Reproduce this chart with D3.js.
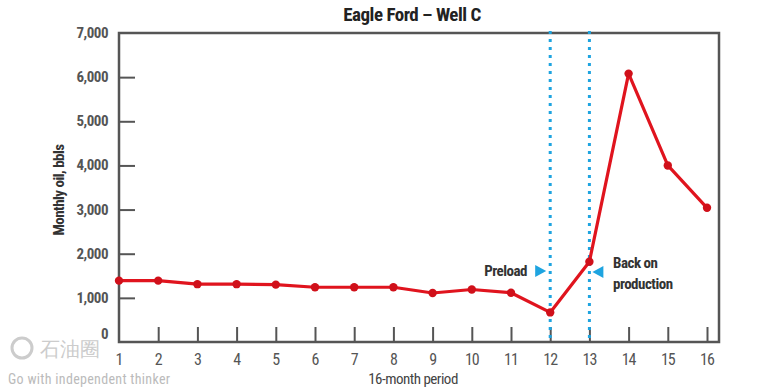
<!DOCTYPE html>
<html><head><meta charset="utf-8">
<script src="https://cdn.jsdelivr.net/npm/d3@7/dist/d3.min.js"></script>
<style>
body{margin:0;background:#fff;}
text{font-family:"Liberation Sans Narrow","Roboto Condensed","Liberation Sans",sans-serif;}
</style></head>
<body><svg id="c" width="775" height="388"></svg>
<script>
const months = [1,2,3,4,5,6,7,8,9,10,11,12,13,14,15,16];
const oil = [1390,1390,1310,1310,1300,1240,1240,1240,1110,1190,1115,670,1820,6080,4000,3040];
const yTicks = [0,1000,2000,3000,4000,5000,6000,7000];
const markerMonths = [12,13];
const title = "Eagle Ford – Well C";

const svg = d3.select("#c");
const L=119,R=719,T=33,B=342;
const x = d3.scaleLinear().domain([1,16]).range([L,707]);
const y = d3.scaleLinear().domain([0,7000]).range([B,T]);
const grey="#555";

// frame
svg.append("rect").attr("x",L).attr("y",T).attr("width",R-L).attr("height",B-T)
  .attr("fill","none").attr("stroke",grey).attr("stroke-width",2.5);

// y axis
const ya = svg.append("g").attr("transform",`translate(${L},0)`)
  .call(d3.axisRight(y).tickValues(yTicks.slice(1,7)).tickSize(16).tickFormat(""));
ya.select(".domain").remove();
ya.selectAll("line").attr("stroke",grey).attr("stroke-width",2);
svg.append("g").selectAll("text").data(yTicks).join("text")
  .attr("x",108).attr("y",d=>y(d)+(d===0?-3:5)).attr("text-anchor","end")
  .attr("font-size",15).attr("fill",grey).attr("font-weight","bold").attr("letter-spacing",-0.5)
  .text(d=>d3.format(",")(d));

// x axis
const xa = svg.append("g").attr("transform",`translate(0,${B})`)
  .call(d3.axisTop(x).tickValues(months.slice(1)).tickSize(15).tickFormat(""));
xa.select(".domain").remove();
xa.selectAll("line").attr("stroke",grey).attr("stroke-width",2);
svg.append("g").selectAll("text").data(months).join("text")
  .attr("x",d=>x(d)).attr("y",365).attr("text-anchor","middle")
  .attr("font-size",16).attr("fill",grey).attr("letter-spacing",-1)
  .text(d=>d);

// blue dotted lines
svg.append("g").selectAll("line").data(markerMonths).join("line")
  .attr("x1",d=>x(d)).attr("x2",d=>x(d)).attr("y1",T-2).attr("y2",B)
  .attr("stroke","#1ea4e0").attr("stroke-width",3).attr("stroke-dasharray","3,5");

// line
svg.append("path").datum(oil)
  .attr("d",d3.line().x((d,i)=>x(months[i])).y(d=>y(d)))
  .attr("fill","none").attr("stroke","#e0141e").attr("stroke-width",3.2).attr("stroke-linejoin","round");
svg.append("g").selectAll("circle").data(oil).join("circle")
  .attr("cx",(d,i)=>x(months[i])).attr("cy",d=>y(d)).attr("r",4.2).attr("fill","#d0101a");

// annotations
svg.append("text").attr("x",527).attr("y",276).attr("text-anchor","end")
  .attr("font-size",15).attr("fill","#333").attr("font-weight","bold").attr("letter-spacing",-0.5).text("Preload");
svg.append("path").attr("d",`M${x(12)-15},${265} L${x(12)-4},${271} L${x(12)-15},${277} Z`).attr("fill","#1ea4e0");
svg.append("path").attr("d",`M${x(13)+14},${266} L${x(13)+3},${272} L${x(13)+14},${278} Z`).attr("fill","#1ea4e0");
svg.append("text").attr("x",613).attr("y",268)
  .attr("font-size",15).attr("fill","#333").attr("font-weight","bold").attr("letter-spacing",-0.5).text("Back on");
svg.append("text").attr("x",613).attr("y",289)
  .attr("font-size",15).attr("fill","#333").attr("font-weight","bold").attr("letter-spacing",-0.5).text("production");

// titles
svg.append("text").attr("x",412).attr("y",21).attr("text-anchor","middle")
  .attr("font-size",19).attr("font-weight","bold").attr("fill","#222").attr("letter-spacing",-0.5).text(title);
svg.append("text").attr("transform","translate(64,190) rotate(-90)").attr("text-anchor","middle")
  .attr("font-size",15).attr("font-weight","bold").attr("fill","#333").attr("letter-spacing",-0.5).text("Monthly oil, bbls");
svg.append("text").attr("x",413).attr("y",384).attr("text-anchor","middle")
  .attr("font-size",15).attr("fill","#444").attr("letter-spacing",-0.5).text("16-month period");

// watermark
svg.append("circle").attr("cx",22).attr("cy",348).attr("r",10).attr("fill","none").attr("stroke","#ccc").attr("stroke-width",3);
svg.append("text").attr("x",40).attr("y",356).attr("font-size",20).attr("fill","#ccc")
  .attr("font-family","Noto Sans CJK SC").text("石油圈");
svg.append("text").attr("x",8).attr("y",384).attr("font-size",14).attr("fill","#bbb")
  .attr("font-family","Liberation Sans").attr("letter-spacing",0.3).text("Go with independent thinker");
</script></body></html>
